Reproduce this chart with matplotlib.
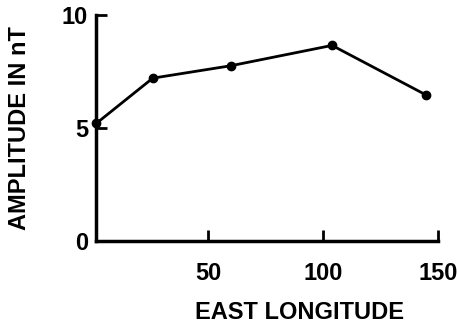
"""Amplitude vs east longitude (line with markers)."""
import matplotlib; matplotlib.use("Agg")
import matplotlib.pyplot as plt

lon = [1.5, 26, 60, 104, 145]
amp = [5.2, 7.2, 7.75, 8.65, 6.45]
xticks = [50, 100, 150]
yticks = [0, 5, 10]

plt.rcParams["font.family"] = ["Liberation Sans", "DejaVu Sans"]
plt.rcParams["font.weight"] = "bold"

fig = plt.figure(figsize=(4.57, 3.32), dpi=100)
ax = fig.add_axes([0.211, 0.275, 0.747, 0.680])
ax.plot(lon, amp, color="black", lw=2, marker="o", ms=6, clip_on=False)
ax.set_xlim(1.5, 150); ax.set_ylim(0, 10)
ax.set_xticks(xticks); ax.set_yticks(yticks)
for s in ["top", "right"]:
    ax.spines[s].set_visible(False)
for s in ["left", "bottom"]:
    ax.spines[s].set_linewidth(2.5)
ax.tick_params(direction="in", length=8, width=2, labelsize=17)
ax.tick_params(axis="x", pad=15)
ax.tick_params(axis="y", pad=6)
ax.set_xlabel("EAST LONGITUDE", fontsize=17, fontweight="bold", labelpad=12, x=0.596)
ax.set_ylabel("AMPLITUDE IN nT", fontsize=17, fontweight="bold", labelpad=22)
plt.savefig("out.png", dpi=100)
plt.close()
